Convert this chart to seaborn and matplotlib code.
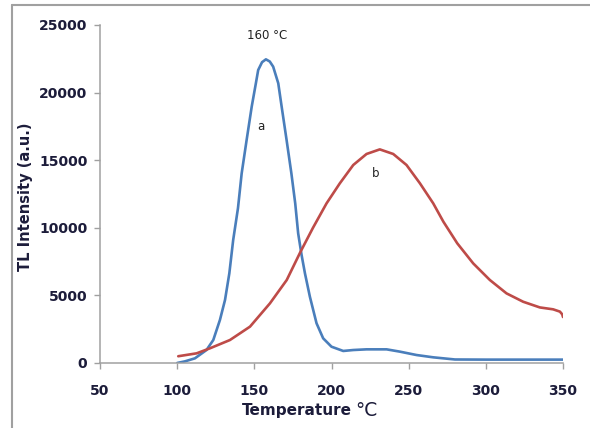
import matplotlib
matplotlib.use("Agg")
import matplotlib.pyplot as plt
import seaborn as sns
import pandas as pd
from matplotlib.lines import Line2D

# ---- data ----
a_temp = [100, 105, 111.5, 119, 123.4, 127.7, 131, 133.8, 136.3, 139.4, 141.8, 145,
          148.3, 151, 152.5, 155, 157.5, 160, 162.2, 165.5, 167.7, 170.9, 174, 176.5,
          178.4, 180.6, 182.8, 186, 190.3, 194.6, 200, 207.6, 214.1, 222.7, 235.7,
          244.3, 255.1, 265.9, 280, 300, 350]
a_tl = [0, 120, 345, 960, 1700, 3180, 4660, 6630, 9100, 11450, 14030, 16490,
        18960, 20690, 21670, 22250, 22460, 22300, 21920, 20690, 18960, 16490, 14030, 11800,
        9590, 8000, 6630, 4900, 2940, 1825, 1205, 890, 960, 1010, 1010,
        840, 590, 420, 260, 250, 250]

b_temp = [100.7, 112.6, 121.2, 134.2, 147.2, 160.1, 171, 179.8, 188, 196.8, 205.4,
          214.1, 222.7, 231.3, 240, 248.6, 257.3, 265.9, 272.5, 281.5, 291.8, 302.6,
          313.4, 324.2, 335, 343.6, 348, 349.5, 350]
b_tl = [500, 715, 1085, 1700, 2690, 4410, 6140, 8200, 10000, 11810, 13290,
        14645, 15460, 15800, 15460, 14645, 13290, 11810, 10450, 8850, 7370, 6140,
        5150, 4530, 4110, 3970, 3800, 3600, 3400]

x_ticks = [50, 100, 150, 200, 250, 300, 350]
y_ticks = [0, 5000, 10000, 15000, 20000, 25000]
peak_label = "160 °C"
curve_labels = ["a", "b"]

df = pd.concat([
    pd.DataFrame({"T": a_temp, "I": a_tl, "curve": "a"}),
    pd.DataFrame({"T": b_temp, "I": b_tl, "curve": "b"}),
], ignore_index=True)

sns.set_style("white")
plt.rcParams['font.family'] = ['DejaVu Sans']

W, H = 590, 428
fig = plt.figure(figsize=(W / 100, H / 100), dpi=100)
ax = fig.add_axes([100 / W, 1 - 363 / H, (563 - 100) / W, (363 - 25) / H])

sns.lineplot(data=df, x="T", y="I", hue="curve", estimator=None, sort=False,
             palette={"a": "#4a7ebb", "b": "#be4b48"}, linewidth=1.9,
             legend=False, ax=ax)
for ln in ax.lines:
    ln.set_solid_joinstyle("round")
    ln.set_solid_capstyle("round")

ax.set_xlim(50, 350)
ax.set_ylim(0, 25000)
ax.set_xticks(x_ticks)
ax.set_yticks(y_ticks)
ax.set_xticklabels([str(v) for v in x_ticks])
ax.set_yticklabels([str(v) for v in y_ticks])
tick_color = "#1c1c3a"
for lab in ax.get_xticklabels() + ax.get_yticklabels():
    lab.set_fontweight("bold")
    lab.set_fontsize(10)
    lab.set_color(tick_color)
ax.tick_params(axis="both", which="both", direction="out", length=4, width=1,
               color="#a0a0a0", bottom=True, left=True)
ax.tick_params(axis="x", pad=11)
ax.tick_params(axis="y", pad=5)

for s in ["top", "right"]:
    ax.spines[s].set_visible(False)
for s in ["left", "bottom"]:
    ax.spines[s].set_color("#a0a0a0")
    ax.spines[s].set_linewidth(1.1)

ax.set_xlabel("")
ax.set_ylabel("TL Intensity (a.u.)", fontsize=10.5, fontweight="bold",
              color=tick_color, labelpad=6)
ax.yaxis.set_label_coords(-(100 - 33) / (563 - 100), (363 - 197) / (363 - 25))

fig.text(352 / W, 1 - 411 / H, "Temperature", ha="right", va="center",
         fontsize=11, fontweight="bold", color=tick_color)
fig.text(355 / W, 1 - 410 / H, "°C", ha="left", va="center",
         fontsize=13.5, color=tick_color)

ax.text(158, 24200, peak_label, ha="center", va="center", fontsize=8.5, color="#222222")
ax.text(154.3, 17500, curve_labels[0], ha="center", va="center", fontsize=8.5, color="#222222")
ax.text(228.5, 13990, curve_labels[1], ha="center", va="center", fontsize=8.5, color="#222222")

# frame lines of the original screenshot
fig.add_artist(Line2D([12 / W, 1], [1 - 5 / H, 1 - 5 / H], transform=fig.transFigure,
                      color="#a0a0a0", linewidth=1.5))
fig.add_artist(Line2D([12 / W, 12 / W], [0, 1 - 5 / H], transform=fig.transFigure,
                      color="#a0a0a0", linewidth=1.5))

fig.savefig("out.png", dpi=100)
